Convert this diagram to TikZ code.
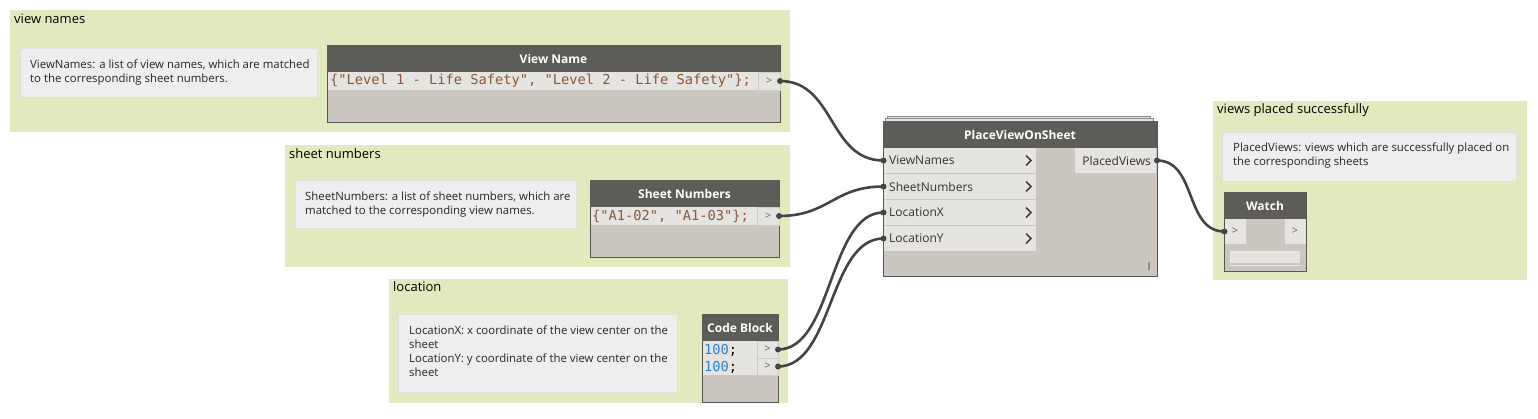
\documentclass[tikz,border=0pt]{standalone}
\usepackage{fontspec}
\setmainfont{Open Sans}
\newfontfamily\codefont{DejaVu Sans Mono}
\usetikzlibrary{positioning}

\definecolor{groupgreen}{RGB}{226,233,190}
\definecolor{notegray}{RGB}{238,238,238}
\definecolor{hdrgray}{RGB}{94,92,89}
\definecolor{rowgray}{RGB}{230,228,224}
\definecolor{bodygray}{RGB}{203,198,191}
\definecolor{edgegray}{RGB}{85,85,85}
\definecolor{wiregray}{RGB}{68,68,68}
\definecolor{strbrown}{RGB}{138,88,58}
\definecolor{numblue}{RGB}{42,129,213}

\tikzset{
  box/.style={anchor=north west, inner sep=0pt, outer sep=0pt},
  grp/.style={box, fill=groupgreen},
  grptitle/.style={anchor=west, inner sep=0pt, font=\fontsize{13}{15}\selectfont},
  note/.style={box, fill=notegray, draw=black!12},
  notetext/.style={anchor=north west, inner sep=0pt, align=left, text=black!85,
    font=\fontsize{11.4}{14}\selectfont},
  bodybox/.style={box, fill=bodygray, draw=edgegray, line width=1pt},
  hdr/.style={box, fill=hdrgray, text=white, font=\bfseries\fontsize{12}{14}\selectfont},
  rowbox/.style={box, fill=rowgray},
  port/.style={box, fill=rowgray, draw=black!20, text=black!60, font=\fontsize{11}{11}\selectfont},
  inlabel/.style={anchor=west, inner sep=0pt, text=black!80, font=\fontsize{12}{14}\selectfont},
  code/.style={anchor=west, inner sep=0pt, font=\codefont\fontsize{13.7}{15}\selectfont},
  chev/.style={line width=1.6pt, draw=black!75},
  wire/.style={draw=wiregray, line width=2.6pt}
}

\begin{document}
\begin{tikzpicture}[x=1pt, y=-1pt]
    \useasboundingbox (0,0) rectangle (1538,418);

    % groups
    \node[grp, minimum width=780, minimum height=122] (gviews) at (10,10) {};
    \node[grptitle] (tviews) at (14,19) {view names};
    \node[grp, minimum width=505, minimum height=122] (gsheets) at (285,145) {};
    \node[grptitle] (tsheets) at (289,154) {sheet numbers};
    \node[grp, minimum width=399, minimum height=124] (gloc) at (389,279) {};
    \node[grptitle] (tloc) at (393,287) {location};
    \node[grp, minimum width=314, minimum height=179] (gplaced) at (1213,101) {};
    \node[grptitle] (tplaced) at (1217,110) {views placed successfully};

    % notes
    \node[note, minimum width=297, minimum height=49] (nviews) at (20,48) {};
    \node[notetext] (xviews) at (30,60) {ViewNames: a list of view names, which are matched\\to the corresponding sheet numbers.};
    \node[note, minimum width=281, minimum height=48] (nsheets) at (295,180) {};
    \node[notetext] (xsheets) at (305,192) {SheetNumbers: a list of sheet numbers, which are\\matched to the corresponding view names.};
    \node[note, minimum width=279, minimum height=78] (nloc) at (398,314) {};
    \node[notetext] (xloc) at (409,326) {LocationX: x coordinate of the view center on the\\sheet\\LocationY: y coordinate of the view center on the\\sheet};
    \node[note, minimum width=294, minimum height=49] (nplaced) at (1222,132) {};
    \node[notetext] (xplaced) at (1233,143) {PlacedViews: views which are successfully placed on\\the corresponding sheets};

    % View Name
    \node[bodybox, minimum width=453, minimum height=77] (vnbody) at (327,45) {};
    \node[hdr, minimum width=453, minimum height=27] (vnhead) at (327,45) {View Name};
    \node[rowbox, minimum width=430, minimum height=18] (vnrow) at (328,72) {};
    \node[code, text=strbrown] (vncode) at (330,81) {\{"Level 1 - Life Safety", "Level 2 - Life Safety"\};};
    \node[port, minimum width=22, minimum height=18] (vnout) at (758,72) {>};

    % Sheet Numbers
    \node[bodybox, minimum width=189, minimum height=77] (snbody) at (590,180) {};
    \node[hdr, minimum width=189, minimum height=27] (snhead) at (590,180) {Sheet Numbers};
    \node[rowbox, minimum width=167, minimum height=18] (snrow) at (591,207) {};
    \node[code, text=strbrown] (sncode) at (592,216) {\{"A1-02", "A1-03"\};};
    \node[port, minimum width=22, minimum height=18] (snout) at (757,207) {>};

    % Code Block
    \node[bodybox, minimum width=76, minimum height=88] (cbbody) at (702,314) {};
    \node[hdr, minimum width=76, minimum height=27] (cbhead) at (702,314) {Code Block};
    \node[rowbox, minimum width=54, minimum height=34] (cbrow) at (703,341) {};
    \node[code, text=numblue] (cbx) at (704,350) {100\textcolor{black}{;}};
    \node[code, text=numblue] (cby) at (704,367) {100\textcolor{black}{;}};
    \node[port, minimum width=21, minimum height=17] (cbout1) at (757,341) {>};
    \node[port, minimum width=21, minimum height=17] (cbout2) at (757,358) {>};

    % PlaceViewOnSheet
    \draw[fill=rowgray, draw=black!45] (887,116) rectangle (1150,121);
    \draw[fill=rowgray, draw=black!45] (885,118) rectangle (1153,121);
    \node[bodybox, minimum width=274, minimum height=155] (pvbody) at (883,121) {};
    \node[hdr, minimum width=274, minimum height=27] (pvhead) at (883,121) {PlaceViewOnSheet};
    \node[rowbox, minimum width=152, minimum height=25] (pvin1) at (883.5,148) {};
    \node[rowbox, minimum width=152, minimum height=25] (pvin2) at (883.5,174) {};
    \node[rowbox, minimum width=152, minimum height=25] (pvin3) at (883.5,200) {};
    \node[rowbox, minimum width=152, minimum height=25] (pvin4) at (883.5,226) {};
    \node[inlabel] (lin1) at (889,160.5) {ViewNames};
    \node[inlabel] (lin2) at (889,186.5) {SheetNumbers};
    \node[inlabel] (lin3) at (889,212.5) {LocationX};
    \node[inlabel] (lin4) at (889,238.5) {LocationY};
    \foreach \y in {160.5,186.5,212.5,238.5}
        \draw[chev] (1026,\y-5) -- (1031,\y) -- (1026,\y+5);
    \node[rowbox, minimum width=81, minimum height=25] (pvout) at (1075,148) {};
    \node[inlabel, anchor=east] (lout) at (1151,160.5) {PlacedViews};
    \draw[draw=black!45, line width=1.5pt] (1149,262) -- (1149,270);

    % Watch
    \node[bodybox, minimum width=82, minimum height=79] (wbody) at (1224,192) {};
    \node[hdr, minimum width=82, minimum height=27] (whead) at (1224,192) {Watch};
    \node[port, draw=none, minimum width=21, minimum height=25] (win) at (1224.5,219) {>};
    \node[port, draw=none, minimum width=21, minimum height=25] (wout) at (1284.5,219) {>};
    \node[rowbox, minimum width=70, minimum height=12] (wshow) at (1230,251) {};
    \draw[draw=rowgray] (1230,265) -- (1300,265);

    % wires
    \draw[wire] (vnout.east) .. controls +(55,0) and +(-55,0) .. (pvin1.west);
    \draw[wire] (snout.east) .. controls +(50,0) and +(-50,0) .. (pvin2.west);
    \draw[wire] (cbout1.east) .. controls +(55,0) and +(-55,0) .. (pvin3.west);
    \draw[wire] (cbout2.east) .. controls +(55,0) and +(-55,0) .. (pvin4.west);
    \draw[wire] (lout.east) ++(6,0) coordinate (pvo) .. controls +(40,0) and +(-40,0) .. (win.west);
%    \draw[wire] (pvout.east) to [out=0, in=180] (win.west);
    \foreach \p in {vnout.east, snout.east, cbout1.east, cbout2.east, pvin1.west, pvin2.west, pvin3.west, pvin4.west, pvo, win.west}
        \fill[wiregray] (\p) circle (3pt);
\end{tikzpicture}
\end{document}
